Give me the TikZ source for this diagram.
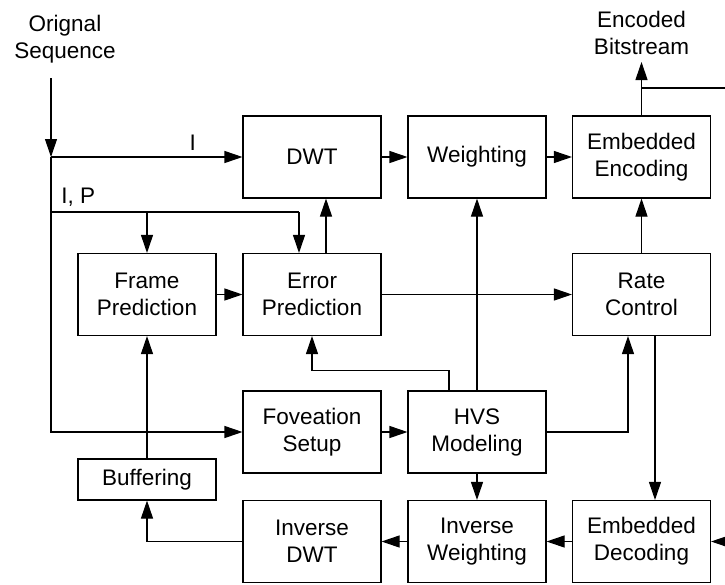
\documentclass[tikz,border=0pt]{standalone}
\usepackage{fontspec}
\setmainfont{Liberation Sans}
\usepackage{tikz}
\usetikzlibrary{arrows.meta}

\begin{document}
\begin{tikzpicture}[x=1pt,y=-1pt,font=\fontsize{22.5}{27}\selectfont,
        block/.style={shape=rectangle,draw=black,line width=1.1pt,minimum width=138pt,minimum height=82pt,inner sep=0pt,align=center},
        flow/.style={-{Triangle[length=18pt,width=12pt]},line width=1.1pt},
        wire/.style={line width=1.1pt}]
        \useasboundingbox (0,0) rectangle (725,584);

        \node[align=center,anchor=south,inner sep=0pt] (orig) at (65,63) {Orignal\\Sequence};
        \node[align=center,anchor=south,inner xsep=0pt,inner ysep=7pt] (bits) at (641.5,62) {Encoded\\Bitstream};

        \node[block] (dwt) at (312,157) {DWT};
        \node[block] (weight) at (477,157) {Weighting};
        \node[block] (enc) at (641.5,157) {Embedded\\Encoding};
        \node[block] (frame) at (147,294.5) {Frame\\Prediction};
        \node[block] (err) at (312,294.5) {Error\\Prediction};
        \node[block] (rate) at (641.5,294.5) {Rate\\Control};
        \node[block] (fov) at (312,432) {Foveation\\Setup};
        \node[block] (hvs) at (477,432) {HVS\\Modeling};
        \node[block,minimum height=41pt] (buf) at (147,479.5) {Buffering};
        \node[block] (idwt) at (312,541.5) {Inverse\\DWT};
        \node[block] (iweight) at (477,541.5) {Inverse\\Weighting};
        \node[block] (dec) at (641.5,541.5) {Embedded\\Decoding};

        \coordinate (in) at (51,78);
        \coordinate (ji) at (51,157);
        \coordinate (jip) at (51,212);
        \coordinate (tap) at (641.5,88);
        \coordinate (outR) at (725,88);
        \coordinate (inR) at (725,541.5);

        % input sequence
        \path [flow] (in) edge (ji);
        \path [flow] (ji) edge node[above,pos=0.74,yshift=3pt] {I} (dwt);
        \draw [flow] (ji) |- (fov);
        \draw [wire] (jip) -- ([xshift=-13pt]err.north |- jip) node[pos=0.11,above,yshift=2pt] {I, P};
        \draw [flow] (frame.north |- jip) -- (frame.north);
        \draw [flow] ([xshift=-13pt]err.north |- jip) -- ([xshift=-13pt]err.north);

        % encoder
        \path [flow] (frame) edge (err);
        \path [flow] (err) edge (rate);
        \path [flow] ([xshift=14pt]err.north) edge ([xshift=14pt]dwt.south);
        \path [flow] (dwt) edge (weight);
        \path [flow] (weight) edge (enc);
        \path [flow] (rate) edge (enc);
        \path [flow] (enc) edge (bits);
        \draw [wire] (tap) -- (outR);

        % hvs model
        \path [flow] (fov) edge (hvs);
        \path [flow] (hvs) edge (weight);
        \draw [flow] ([xshift=-28pt]hvs.north) -- ++(0,-20) -| (err.south);
        \draw [flow] (hvs.east) -| ([xshift=-13.5pt]rate.south);
        \path [flow] (hvs) edge (iweight);

        % decoder loop
        \path [flow] ([xshift=13.5pt]rate.south) edge ([xshift=13.5pt]dec.north);
        \path [flow] (inR) edge (dec);
        \path [flow] (dec) edge (iweight);
        \path [flow] (iweight) edge (idwt);
        \draw [flow] (idwt.west) -| (buf.south);
        \path [flow] (buf) edge (frame);
    \end{tikzpicture}
\end{document}
